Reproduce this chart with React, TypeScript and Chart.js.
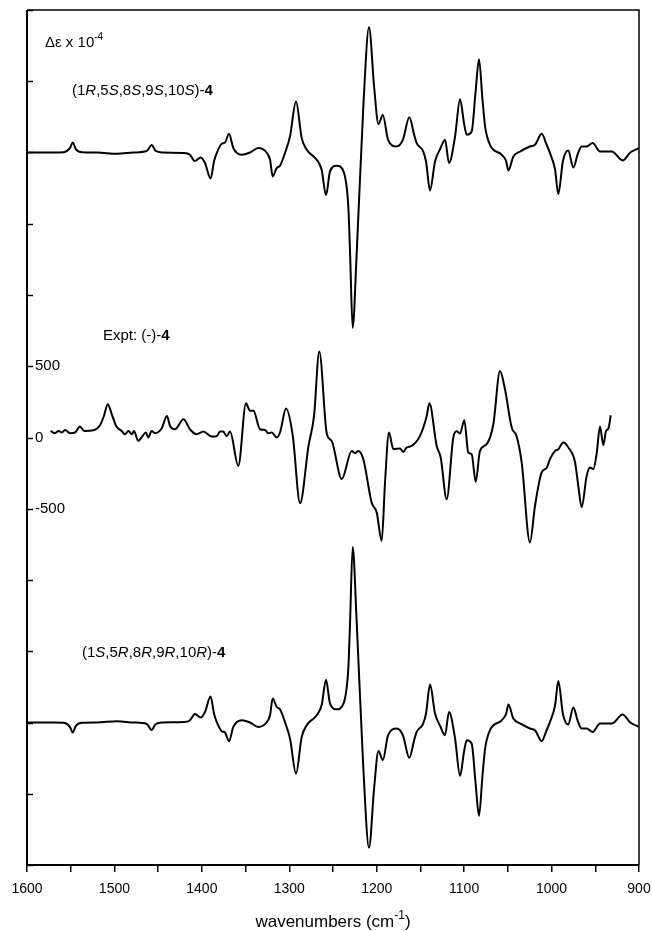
import React, { useEffect, useRef } from "react";
import { Chart, registerables } from "chart.js";

Chart.register(...registerables);

// Calculated VCD spectrum of (1R,5S,8S,9S,10S)-4 (Δε x 10^-4 units, before offset)
const calcWavenumbers = [
  1600, 1570, 1558, 1551, 1547.7, 1544, 1537, 1520, 1497, 1478, 1463, 1457.4, 1453, 1445, 1420,
  1413.6, 1408, 1401.3, 1396.4, 1390, 1386, 1383, 1377.3, 1373.5, 1369, 1364, 1354.4, 1345,
  1335.4, 1326, 1322, 1319, 1314.4, 1310.6, 1305, 1299.2, 1292.3, 1285.8, 1280, 1268.6, 1263,
  1258, 1253.4, 1245.8, 1238, 1232.5, 1230.5, 1227.5, 1222.9, 1215.3, 1208.8, 1203, 1198, 1193,
  1187, 1177.2, 1170, 1162.7, 1157, 1154.3, 1147, 1143.6, 1139, 1133.3, 1127, 1121.9, 1117.3,
  1110.4, 1104.7, 1100, 1097, 1091.4, 1087, 1083, 1079, 1076, 1070.4, 1057, 1052, 1049.4, 1043.7,
  1035, 1024.7, 1019, 1011.3, 1006, 1001.8, 996, 992.3, 987, 981, 975.1, 970, 965.6, 959.9, 953,
  944.6, 931.2, 918.6, 910, 900,
];
const calcValues = [
  0, 0, 2, 30, 70, 22, 2, 0, -9, 0, 10, 52, 12, 0, -3,
  -16, -60, -35, -74, -182, -60, -4, 61, 70, 131, 31, -16, 0,
  31, 0, -51, -168, -109, -93, -4, 112, 358, 101, 19, -51, -121,
  -300, -133, -93, -133, -379, -700, -1231, -706, 323, 879, 463, 200, 264,
  89, 42, 90, 248, 120, 66, 10, -63, -266, -63, 30, 89, -74,
  112, 374, 200, 124, 147, 420, 655, 370, 182, 54, -16, -60, -126, -28,
  10, 42, 54, 131, 60, -4, -120, -292, -60, 14, -105, -10, 42, 42, 66,
  7, 7, -56, 0, 31,
];

// Experimental VCD spectrum of (-)-4
const exptWavenumbers = [
  1573, 1568, 1564, 1560, 1556.5, 1550.8, 1545, 1539.4, 1534.5, 1524, 1516.5, 1512, 1507.7, 1503,
  1498, 1491.7, 1488, 1484, 1480, 1477.6, 1472.7, 1469, 1464, 1461.3, 1457.4, 1453.6, 1446, 1440,
  1436.4, 1430.7, 1421, 1413.6, 1406, 1398.3, 1388.8, 1383, 1379.3, 1375.5, 1371.6, 1367.8,
  1358.3, 1349.5, 1344.9, 1341, 1333.5, 1327.8, 1324, 1320, 1314.4, 1310.6, 1303.7, 1296, 1287.7,
  1278, 1271.7, 1265.7, 1257, 1251.5, 1240, 1228.6, 1224.8, 1221, 1215.3, 1205.8, 1200, 1194.3,
  1190.5, 1186, 1181, 1173.4, 1169.6, 1165.7, 1160, 1150.5, 1142.8, 1139.8, 1131.4, 1126.8, 1120,
  1112.4, 1108.5, 1104.7, 1099.8, 1095.3, 1091.4, 1086.8, 1081.9, 1074.2, 1066.6, 1059, 1053.3,
  1045.6, 1040, 1034.2, 1024.7, 1019, 1011.3, 1005.6, 1001.8, 996, 992.3, 986.5, 980.8, 973.1,
  969.4, 965.6, 959.9, 956.1, 952.3, 948.5, 944.6, 940.8, 937.7, 935, 932.3,
];
const exptValues = [
  46, 30, 46, 35, 53, 30, 35, 77, 46, 51, 86, 151, 234, 163,
  81, 46, 23, 46, 23, 46, -24, 0, 35, 0, 46, 30, 63, 151,
  81, 58, 128, 58, 23, 42, 7, 9, 42, 42, 9, 42,
  -199, 240, 187, 187, 58, 53, 30, 35, 0, 35, 203, 11, -461,
  -59, 151, 603, 23, -24, -292, -94, -110, -94, -152, -456, -526, -725,
  -316, 35, -82, -77, -101, -70, -59, 11, 151, 240, -59, -140, -433,
  0, 44, 28, 121, -105, -117, -311, -94, -47, 93, 467, 339,
  70, 9, -175, -736, -482, -245, -213, -152, -94, -82, -35, -70, -175,
  -342, -489, -271, -210, -222, -117, 77, -54, 46, 63, 156,
];

const topOffset = 2000;
const bottomOffset = -2000;
const yTickLabels = [500, 0, -500];
const xLabelTicks = [1600, 1500, 1400, 1300, 1200, 1100, 1000, 900];

const FONT = "'Liberation Sans', Arial, sans-serif";

type Part = { t: string; italic?: boolean; bold?: boolean; sup?: boolean };

function drawRich(ctx: CanvasRenderingContext2D, x: number, y: number, parts: Part[], size: number, align: "left" | "center" = "left") {
  const fontFor = (p: Part) => {
    const s = p.sup ? Math.round(size * 0.68) : size;
    return `${p.italic ? "italic " : ""}${p.bold ? "bold " : ""}${s}px ${FONT}`;
  };
  ctx.save();
  ctx.fillStyle = "#000";
  ctx.textBaseline = "alphabetic";
  ctx.textAlign = "left";
  let total = 0;
  for (const p of parts) {
    ctx.font = fontFor(p);
    total += ctx.measureText(p.t).width;
  }
  let cx = align === "center" ? x - total / 2 : x;
  for (const p of parts) {
    ctx.font = fontFor(p);
    ctx.fillText(p.t, cx, p.sup ? y - size * 0.45 : y);
    cx += ctx.measureText(p.t).width;
  }
  ctx.restore();
}

const decorPlugin = {
  id: "decor",
  afterDraw(chart: any) {
    const { ctx, chartArea } = chart;
    const { left, right, top, bottom } = chartArea;
    const yScale = chart.scales.y;
    ctx.save();
    ctx.strokeStyle = "#000";
    // frame
    ctx.lineWidth = 1.5;
    ctx.beginPath();
    ctx.moveTo(left, top);
    ctx.lineTo(right, top);
    ctx.lineTo(right, bottom);
    ctx.stroke();
    ctx.lineWidth = 2;
    ctx.beginPath();
    ctx.moveTo(left, top);
    ctx.lineTo(left, bottom);
    ctx.lineTo(right, bottom);
    ctx.stroke();
    // inward y ticks
    ctx.lineWidth = 1.5;
    for (const tk of yScale.ticks) {
      const py = Math.round(yScale.getPixelForValue(tk.value)) + 0.5;
      ctx.beginPath();
      ctx.moveTo(left, py);
      ctx.lineTo(left + 6, py);
      ctx.stroke();
    }
    ctx.restore();

    drawRich(ctx, left + 18, top + 37, [{ t: "Δε x 10" }, { t: "-4", sup: true }], 15);
    drawRich(
      ctx,
      left + 45,
      top + 85,
      [
        { t: "(1" }, { t: "R", italic: true }, { t: ",5" }, { t: "S", italic: true },
        { t: ",8" }, { t: "S", italic: true }, { t: ",9" }, { t: "S", italic: true },
        { t: ",10" }, { t: "S", italic: true }, { t: ")-" }, { t: "4", bold: true },
      ],
      15
    );
    drawRich(ctx, left + 76, top + 330, [{ t: "Expt: (-)-" }, { t: "4", bold: true }], 15);
    drawRich(
      ctx,
      left + 55,
      top + 647,
      [
        { t: "(1" }, { t: "S", italic: true }, { t: ",5" }, { t: "R", italic: true },
        { t: ",8" }, { t: "R", italic: true }, { t: ",9" }, { t: "R", italic: true },
        { t: ",10" }, { t: "R", italic: true }, { t: ")-" }, { t: "4", bold: true },
      ],
      15
    );
    drawRich(ctx, (left + right) / 2, bottom + 62, [{ t: "wavenumbers (cm" }, { t: "-1", sup: true }, { t: ")" }], 17, "center");
  },
};

export default function App() {
  const ref = useRef<HTMLCanvasElement | null>(null);
  useEffect(() => {
    if (!ref.current) return;
    const top = calcWavenumbers.map((x, i) => ({ x, y: topOffset + calcValues[i] }));
    const bottom = calcWavenumbers.map((x, i) => ({ x, y: bottomOffset - calcValues[i] }));
    const expt = exptWavenumbers.map((x, i) => ({ x, y: exptValues[i] }));
    const ds = (data: any[]) => ({
      data,
      borderColor: "#000",
      borderWidth: 2,
      pointRadius: 0,
      fill: false,
      cubicInterpolationMode: "monotone" as const,
    });
    const chart = new Chart(ref.current, {
      type: "line",
      data: { datasets: [ds(top), ds(expt), ds(bottom)] },
      options: {
        animation: false,
        responsive: false,
        maintainAspectRatio: false,
        layout: { padding: { top: 10, right: 13, left: 0, bottom: 0 } },
        plugins: { legend: { display: false }, tooltip: { enabled: false }, title: { display: false } },
        scales: {
          x: {
            type: "linear",
            reverse: true,
            min: 900,
            max: 1600,
            border: { display: false },
            grid: { drawOnChartArea: false, drawTicks: true, tickLength: 7, color: "#000", lineWidth: 1.5 },
            ticks: {
              stepSize: 50,
              padding: 9,
              color: "#000",
              font: { family: FONT, size: 14 },
              maxRotation: 0,
              autoSkip: false,
              callback: (v: any) => (xLabelTicks.includes(Number(v)) ? String(v) : ""),
            },
            afterFit: (s: any) => {
              s.height = 66;
              s.paddingLeft = 0;
              s.paddingRight = 0;
              s.paddingTop = 0;
              s.paddingBottom = 0;
            },
          },
          y: {
            type: "linear",
            min: -3000,
            max: 3000,
            border: { display: false },
            grid: { drawOnChartArea: false, drawTicks: false },
            ticks: {
              stepSize: 500,
              mirror: true,
              padding: 8,
              color: "#000",
              font: { family: FONT, size: 15 },
              autoSkip: false,
              callback: (v: any) => (yTickLabels.includes(Number(v)) ? String(v) : ""),
            },
            afterFit: (s: any) => {
              s.width = 27;
              s.paddingTop = 0;
              s.paddingBottom = 0;
              s.paddingLeft = 0;
              s.paddingRight = 0;
            },
          },
        },
      },
      plugins: [decorPlugin],
    });
    return () => chart.destroy();
  }, []);
  return (
    <div style={{ position: "absolute", left: 0, top: 0, width: 652, height: 931, background: "#fff" }}>
      <canvas ref={ref} width={652} height={931} style={{ width: 652, height: 931, display: "block" }} />
    </div>
  );
}
